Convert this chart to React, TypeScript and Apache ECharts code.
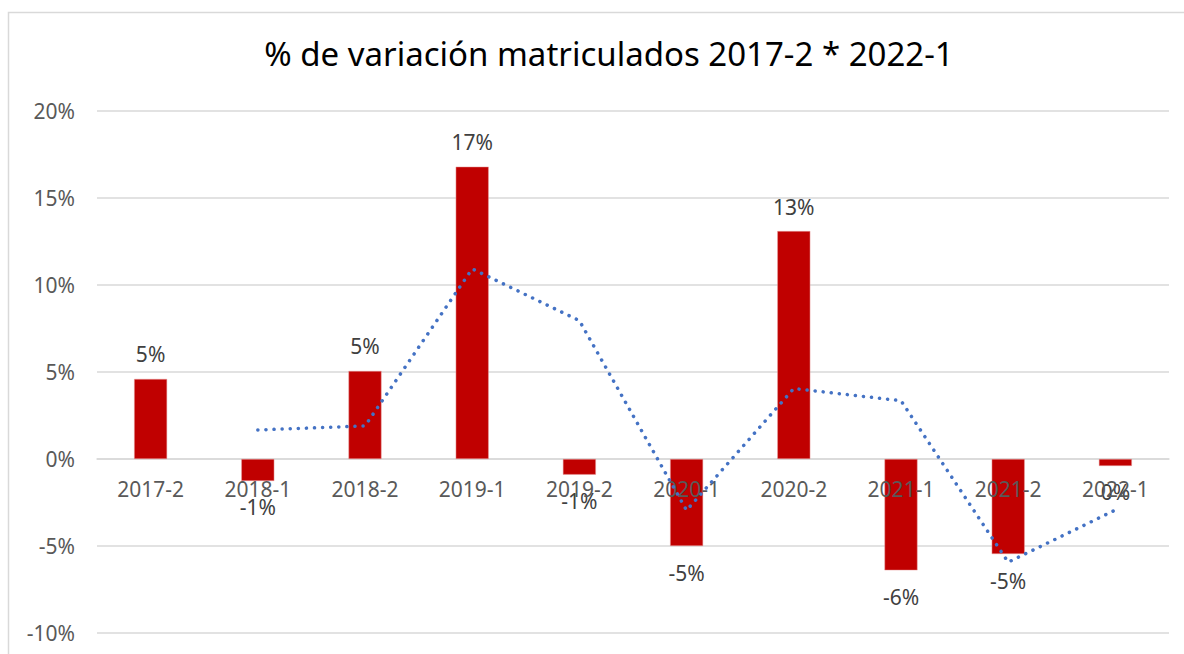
import React, { useEffect, useRef } from "react";
import * as echarts from "echarts";

const categories = ["2017-2", "2018-1", "2018-2", "2019-1", "2019-2", "2020-1", "2020-2", "2021-1", "2021-2", "2022-1"];
const variation = [4.6, -1.26, 5.06, 16.8, -0.9, -5.0, 13.1, -6.4, -5.46, -0.4];
const movingAvg: (number | string)[] = ["-", 1.67, 1.9, 10.93, 7.95, -2.95, 4.05, 3.35, -5.93, -2.93];
const yTicks = { min: -10, max: 20, interval: 5 };
const titleText = "% de variación matriculados 2017-2 * 2022-1";

const FONT = "Noto Sans";

export default function App() {
  const ref = useRef<HTMLDivElement>(null);
  useEffect(() => {
    if (!ref.current) return;
    const chart = echarts.init(ref.current, undefined, { renderer: "svg" });
    chart.setOption({
      animation: false,
      backgroundColor: "#ffffff",
      title: {
        text: titleText,
        left: 604,
        textAlign: "center",
        top: 32,
        textStyle: { fontFamily: FONT, fontSize: 33, fontWeight: "normal", color: "#000000" },
      },
      graphic: [
        {
          type: "rect",
          shape: { x: 8.5, y: 12.5, width: 1300, height: 800 },
          style: { fill: "none", stroke: "#d9d9d9", lineWidth: 1.5 },
          silent: true,
        },
      ],
      grid: { left: 97, right: 15, top: 111, bottom: 21, containLabel: false, outerBoundsMode: "none" },
      xAxis: {
        type: "category",
        data: categories,
        axisLine: { onZero: true, lineStyle: { color: "#d9d9d9", width: 1.5 } },
        axisTick: { show: false },
        axisLabel: { show: false },
      },
      yAxis: {
        type: "value",
        min: yTicks.min,
        max: yTicks.max,
        interval: yTicks.interval,
        axisLine: { show: false },
        axisTick: { show: false },
        axisLabel: { margin: 22, formatter: "{value}%", fontFamily: FONT, fontSize: 21, color: "#595959" },
        splitLine: { lineStyle: { color: "#d9d9d9", width: 1.5 } },
      },
      series: [
        {
          type: "bar",
          barWidth: 33,
          z: 2,
          itemStyle: { color: "#C00000", borderColor: "#e8a0a0", borderWidth: 0.5 },
          data: variation.map((v) => ({
            value: v,
            label: {
              show: true,
              position: v >= 0 ? "top" : "bottom",
              distance: v >= 0 ? 14 : 16,
              formatter: () => `${Math.round(v)}%`,
              fontFamily: FONT,
              fontSize: 21,
              color: "#404040",
            },
          })),
        },
        {
          type: "scatter",
          z: 3,
          silent: true,
          symbolSize: 1,
          itemStyle: { color: "#ffffff", opacity: 0 },
          data: categories.map((c) => [c, 0]),
          label: {
            show: true,
            position: "bottom",
            distance: 19,
            formatter: (p: any) => p.value[0],
            fontFamily: FONT,
            fontSize: 21,
            color: "#595959",
            opacity: 1,
            textBorderWidth: 0,
          },
        },
        {
          type: "line",
          z: 5,
          data: movingAvg,
          symbol: "none",
          lineStyle: { color: "#4472C4", width: 3.5, type: [0.1, 8], cap: "round" },
        },
      ],
    });
    return () => chart.dispose();
  }, []);
  return <div ref={ref} style={{ position: "fixed", top: 0, left: 0, width: 1184, height: 654 }} />;
}
